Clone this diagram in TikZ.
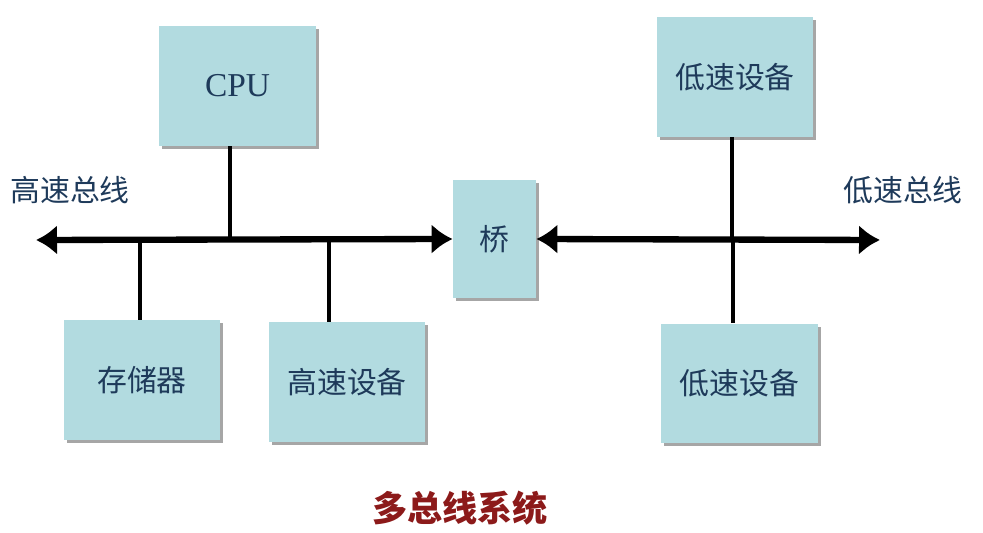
\documentclass[tikz,border=0pt]{standalone}
\usepackage{fontspec}
\setmainfont{Liberation Serif}
\newfontfamily\cjk{Noto Sans CJK SC}
\usetikzlibrary{arrows.meta, positioning, shadows}
\definecolor{boxfill}{RGB}{178,219,224}
\definecolor{boxtext}{RGB}{30,58,90}
\definecolor{titlered}{RGB}{140,26,26}

\begin{document}
\begin{tikzpicture}[x=0.02cm, y=-0.02cm,
  unit/.style = {draw=none, fill=boxfill, minimum width=3.14cm, minimum height=2.4cm,
    text=boxtext, font=\cjk\fontsize{17}{20}\selectfont,
    drop shadow={shadow xshift=0.06cm, shadow yshift=-0.06cm, fill=gray!70, opacity=1}},
  bus/.style = {line width=3.6pt, {Latex[length=0.42cm,width=0.6cm]}-{Latex[length=0.42cm,width=0.6cm]}},
  tap/.style = {line width=1.8pt},
  buslabel/.style = {text=boxtext, font=\cjk\fontsize{17}{20}\selectfont}]
      \useasboundingbox (0,0) rectangle (983,533);

      \node[unit] (cpu)    at (237.5,86)  {\rmfamily\fontsize{19}{22}\selectfont CPU};
      \node[unit, minimum width=1.66cm, minimum height=2.36cm] (bridge) at (494.5,239) {桥};
      \node[unit] (lowtop) at (735,77)    {低速设备};
      \node[unit] (mem)    at (142,380)   {存储器};
      \node[unit] (fast)   at (347,382)   {高速设备};
      \node[unit] (lowbot) at (739.5,383.5) {低速设备};

      \coordinate (hl) at (36,240);
      \coordinate (lr) at (880,240);

      \node[buslabel] (hlabel) at (70,190)  {高速总线};
      \node[buslabel] (llabel) at (903,190) {低速总线};
      \node[text=titlered, font=\cjk\bfseries\fontsize{20}{24}\selectfont] (title) at (460,508) {多总线系统};

      % buses
      \draw[bus] (hl) -- (bridge.west);
      \draw[bus] (bridge.east) -- (lr);

      % taps
      \draw[tap] ([xshift=-0.15cm]cpu.south)   -- ([xshift=-0.15cm]cpu.south |- hl);
      \draw[tap] ([xshift=-0.04cm]mem.north)   -- ([xshift=-0.04cm]mem.north |- hl);
      \draw[tap] ([xshift=-0.36cm]fast.north)  -- ([xshift=-0.36cm]fast.north |- hl);
      \draw[tap] ([xshift=-0.06cm]lowtop.south) -- ([xshift=-0.06cm]lowtop.south |- lr);
      \draw[tap] ([xshift=-0.13cm]lowbot.north) -- ([xshift=-0.13cm]lowbot.north |- lr);
\end{tikzpicture}
\end{document}
